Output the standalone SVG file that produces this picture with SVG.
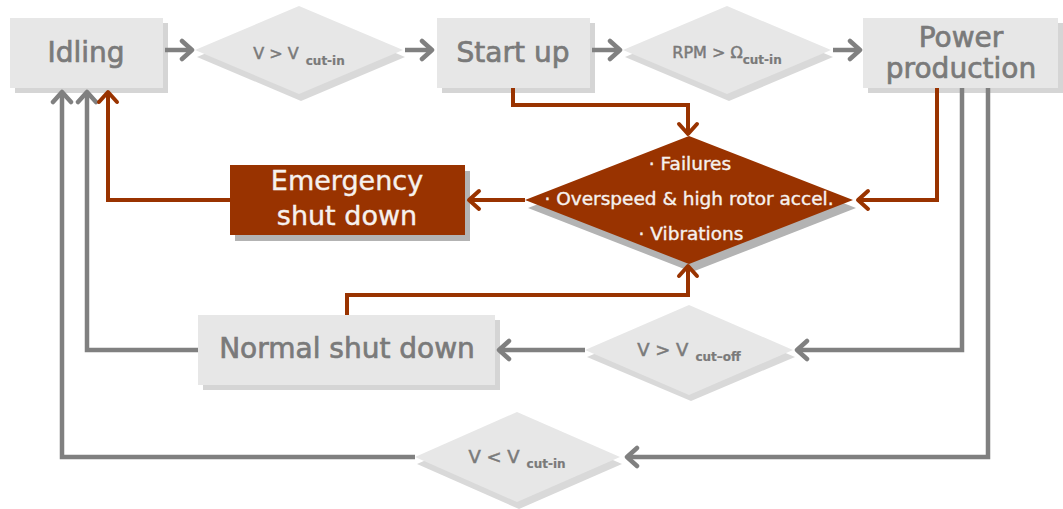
<svg xmlns="http://www.w3.org/2000/svg" width="1063" height="509" viewBox="0 0 1063 509">
<defs>
<style>
.box{fill:#e7e7e7}
.bsh{fill:#d5d5d5}
.dia{fill:#e7e7e7}
.dsh{fill:#d9d9d9}
.red{fill:#993300}
.rsh{fill:#b3b3b3}
.t{font-family:"DejaVu Sans","Liberation Sans",sans-serif;fill:#7a7a7a;stroke:#7a7a7a;stroke-width:0.5;text-anchor:middle}
.tw{font-family:"DejaVu Sans","Liberation Sans",sans-serif;fill:#f6f1ee;stroke:#f6f1ee;stroke-width:0.4;text-anchor:middle}
.big{font-size:28px;stroke-width:0.7}
.sub{font-size:12px;font-weight:bold;stroke-width:0.2}
.cg{fill:none;stroke:#808080;stroke-width:4.5}
.cr{fill:none;stroke:#993300;stroke-width:4}
</style>
<marker id="mg" viewBox="-14 -12 18 24" refX="0" refY="0" markerWidth="18" markerHeight="24" markerUnits="userSpaceOnUse" orient="auto"><path d="M-10,-9 L0,0 L-10,9" fill="none" stroke="#808080" stroke-width="4.5" stroke-linecap="round" stroke-linejoin="round"/></marker>
<marker id="mr" viewBox="-14 -12 18 24" refX="0" refY="0" markerWidth="18" markerHeight="24" markerUnits="userSpaceOnUse" orient="auto"><path d="M-10,-9 L0,0 L-10,9" fill="none" stroke="#993300" stroke-width="4" stroke-linecap="round" stroke-linejoin="round"/></marker>
</defs>
<rect width="1063" height="509" fill="#ffffff"/>

<g id="idling">
<rect class="bsh" x="15" y="23" width="153" height="70"/>
<rect class="box" x="10" y="18" width="153" height="70"/>
<text class="t big" x="86" y="62">Idling</text>
</g>

<g id="cond-v-cutin">
<polygon class="dsh" points="197,57 301,13 405,57 301,101"/>
<polygon class="dia" points="195,50 299,6 403,50 299,94"/>
<text class="t" x="299" y="59" font-size="16">V &gt; V<tspan class="sub" dx="7" dy="6">cut-in</tspan></text>
</g>

<g id="startup">
<rect class="bsh" x="442" y="23" width="153" height="70"/>
<rect class="box" x="437" y="18" width="153" height="70"/>
<text class="t big" x="513" y="62">Start up</text>
</g>

<g id="cond-rpm">
<polygon class="dsh" points="625,57 729,13 833,57 729,101"/>
<polygon class="dia" points="623,50 727,6 831,50 727,94"/>
<text class="t" x="727" y="58" font-size="16">RPM &gt; Ω<tspan class="sub" dy="6">cut-in</tspan></text>
</g>

<g id="power">
<rect class="bsh" x="868" y="23" width="195" height="70"/>
<rect class="box" x="863" y="18" width="195" height="70"/>
<text class="t big" x="961" y="47">Power</text>
<text class="t big" x="961" y="78">production</text>
</g>

<g id="faults">
<polygon class="rsh" points="528,208 692,144 856,208 692,272"/>
<polygon class="red" points="525,200 689,136 853,200 689,264"/>
<text class="tw" x="690" y="170" font-size="18.5">· Failures</text>
<text class="tw" x="689" y="205" font-size="18.5">· Overspeed &amp; high rotor accel.</text>
<text class="tw" x="691" y="240" font-size="18.5">· Vibrations</text>
</g>

<g id="emergency">
<rect class="rsh" x="235" y="171" width="235" height="70"/>
<rect class="red" x="230" y="165" width="235" height="70"/>
<text class="tw" x="347" y="190" font-size="27" stroke-width="0.6">Emergency</text>
<text class="tw" x="347" y="225" font-size="27" stroke-width="0.6">shut down</text>
</g>

<g id="normal">
<rect class="bsh" x="203" y="320" width="297" height="70"/>
<rect class="box" x="198" y="315" width="297" height="70"/>
<text class="t big" x="347" y="358">Normal shut down</text>
</g>

<g id="cond-cutoff">
<polygon class="dsh" points="587,357 691,313 795,357 691,401"/>
<polygon class="dia" points="585,350 689,305 793,350 689,395"/>
<text class="t" x="689" y="356" font-size="18">V &gt; V<tspan class="sub" dx="7" dy="5">cut–off</tspan></text>
</g>

<g id="cond-v-below">
<polygon class="dsh" points="417,464 519,419 622,464 519,509"/>
<polygon class="dia" points="415,457 517,412 620,457 517,502"/>
<text class="t" x="517" y="463" font-size="18">V &lt; V<tspan class="sub" dx="7" dy="5">cut-in</tspan></text>
</g>

<g id="connectors">
<path class="cg" d="M165,50 H192" marker-end="url(#mg)"/>
<path class="cg" d="M405,50 H432" marker-end="url(#mg)"/>
<path class="cg" d="M592,50 H620" marker-end="url(#mg)"/>
<path class="cg" d="M833,50 H860" marker-end="url(#mg)"/>
<path class="cg" d="M962,88 V350 H797" marker-end="url(#mg)"/>
<path class="cg" d="M988,88 V457 H627" marker-end="url(#mg)"/>
<path class="cg" d="M585,350 H499" marker-end="url(#mg)"/>
<path class="cg" d="M198,350 H87 V92" marker-end="url(#mg)"/>
<path class="cg" d="M415,457 H62 V92" marker-end="url(#mg)"/>
<path class="cr" d="M513,88 V105 H688 V134" marker-end="url(#mr)"/>
<path class="cr" d="M937,88 V200 H858" marker-end="url(#mr)"/>
<path class="cr" d="M525,200 H469" marker-end="url(#mr)"/>
<path class="cr" d="M230,200 H108 V92" marker-end="url(#mr)"/>
<path class="cr" d="M347,315 V295 H688 V266" marker-end="url(#mr)"/>
</g>
</svg>
